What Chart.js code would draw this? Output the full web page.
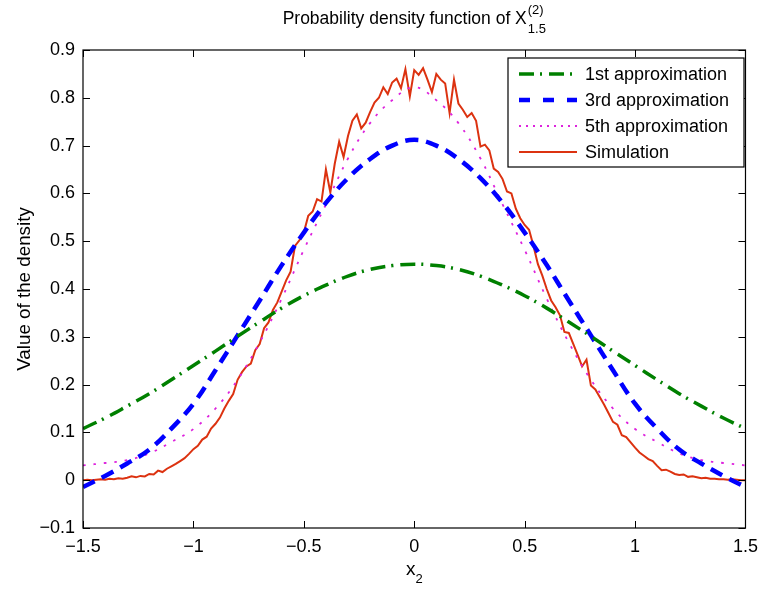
<!DOCTYPE html>
<html>
<head>
<meta charset="utf-8">
<script src="https://cdn.jsdelivr.net/npm/chart.js@4.4.1/dist/chart.umd.min.js"></script>
<style>
html,body{margin:0;padding:0;background:#fff;}
#wrap{width:766px;height:590px;position:relative;}
</style>
</head>
<body>
<div id="wrap"><canvas id="c" width="766" height="590"></canvas></div>
<script>
// ---- data ----
const approxX = [-1.5,-1.4,-1.3,-1.2,-1.1,-1.0,-0.9,-0.8,-0.7,-0.6,-0.5,-0.4,-0.3,-0.2,-0.1,0,0.1,0.2,0.3,0.4,0.5,0.6,0.7,0.8,0.9,1.0,1.1,1.2,1.3,1.4,1.5];
const firstApprox = [0.108,0.130,0.155,0.181,0.210,0.240,0.270,0.301,0.331,0.360,0.386,0.408,0.427,0.441,0.449,0.452,0.449,0.441,0.427,0.408,0.386,0.360,0.331,0.301,0.270,0.240,0.210,0.181,0.155,0.130,0.108];
const thirdApprox = [-0.014,0.009,0.035,0.064,0.108,0.160,0.230,0.303,0.376,0.450,0.518,0.580,0.632,0.672,0.700,0.712,0.700,0.672,0.632,0.580,0.518,0.450,0.376,0.303,0.230,0.160,0.108,0.064,0.035,0.009,-0.014];
const fifthApprox = [0.031,0.036,0.042,0.056,0.080,0.107,0.150,0.210,0.288,0.380,0.482,0.577,0.673,0.747,0.795,0.822,0.795,0.747,0.673,0.577,0.482,0.380,0.288,0.210,0.150,0.107,0.080,0.056,0.042,0.036,0.031];
const simX = [-1.50,-1.48,-1.46,-1.44,-1.42,-1.40,-1.38,-1.36,-1.34,-1.32,
-1.30,-1.28,-1.26,-1.24,-1.22,-1.20,-1.18,-1.16,-1.14,-1.12,
-1.10,-1.08,-1.06,-1.04,-1.02,-1.00,-0.98,-0.96,-0.94,-0.92,
-0.90,-0.88,-0.86,-0.84,-0.82,-0.80,-0.78,-0.76,-0.74,-0.72,
-0.70,-0.68,-0.66,-0.64,-0.62,-0.60,-0.58,-0.56,-0.54,-0.52,
-0.50,-0.48,-0.46,-0.44,-0.42,-0.40,-0.38,-0.36,-0.34,-0.32,
-0.30,-0.28,-0.26,-0.24,-0.22,-0.20,-0.18,-0.16,-0.14,-0.12,
-0.10,-0.08,-0.06,-0.04,-0.02,0.00,
0.02,0.04,0.06,0.08,0.10,0.12,0.14,0.16,0.18,0.20,
0.22,0.24,0.26,0.28,0.30,0.32,0.34,0.36,0.38,0.40,
0.42,0.44,0.46,0.48,0.50,0.52,0.54,0.56,0.58,0.60,
0.62,0.64,0.66,0.68,0.70,0.72,0.74,0.76,0.78,0.80,
0.82,0.84,0.86,0.88,0.90,0.92,0.94,0.96,0.98,1.00,
1.02,1.04,1.06,1.08,1.10,1.12,1.14,1.16,1.18,1.20,
1.22,1.24,1.26,1.28,1.30,1.32,1.34,1.36,1.38,1.40,
1.42,1.44,1.46,1.48,1.50];
const simY = [0.000,0.001,0.000,0.001,0.002,0.001,0.003,0.002,0.004,0.003,
0.005,0.008,0.006,0.009,0.008,0.013,0.012,0.020,0.017,0.024,
0.029,0.034,0.040,0.046,0.055,0.065,0.072,0.085,0.091,0.108,
0.118,0.131,0.150,0.166,0.180,0.210,0.226,0.238,0.244,0.272,
0.285,0.318,0.330,0.356,0.372,0.395,0.418,0.436,0.490,0.502,
0.518,0.553,0.562,0.588,0.583,0.650,0.602,0.662,0.708,0.676,
0.720,0.752,0.765,0.736,0.748,0.770,0.790,0.800,0.822,0.808,
0.832,0.840,0.820,0.860,0.803,0.858,
0.848,0.862,0.838,0.812,0.850,0.838,0.830,0.768,0.838,0.788,
0.775,0.760,0.768,0.752,0.698,0.702,0.690,0.652,0.645,0.630,
0.604,0.600,0.568,0.548,0.534,0.524,0.490,0.452,0.428,0.400,
0.376,0.362,0.345,0.310,0.308,0.285,0.262,0.238,0.252,0.198,
0.190,0.174,0.158,0.140,0.122,0.116,0.094,0.090,0.079,0.068,
0.058,0.051,0.044,0.040,0.030,0.021,0.022,0.018,0.013,0.011,
0.012,0.007,0.008,0.006,0.004,0.005,0.003,0.003,0.002,0.002,
0.001,0.002,0.001,0.000,0.000];
const xTickValues = [-1.5,-1,-0.5,0,0.5,1,1.5];
const yTickValues = [-0.1,0,0.1,0.2,0.3,0.4,0.5,0.6,0.7,0.8,0.9];
const seriesNames = ['1st approximation','3rd approximation','5th approximation','Simulation'];
const titleMain = 'Probability density function of X';
const titleSup = '(2)';
const titleSub = '1.5';
const xLabel = 'x';
const xLabelSub = '2';
const yLabel = 'Value of the density';

// ---- styles ----
const FONT = '"Liberation Sans", Arial, Helvetica, sans-serif';
const styles = [
  {color:'#008000', width:3.5, dash:[15,6,2,7]},
  {color:'#0000ff', width:4.5, dash:[13,8]},
  {color:'#dd22dd', width:1.8, dash:[2.5,8]},
  {color:'#dc3210', width:2, dash:[]}
];
const legendDash = [[15,6,2,7],[11,13],[2,5],[]];

function pts(xs, ys){ return xs.map((x,i)=>({x:x, y:ys[i]})); }
function fmt(v){
  const r = Math.round(v*10)/10;
  const s = String(Math.abs(r));
  return (r < 0 ? '\u2212' : '') + s;
}

const decorPlugin = {
  id:'decor',
  afterDraw(chart){
    const ctx = chart.ctx;
    const a = chart.chartArea;
    const xs = chart.scales.x, ys = chart.scales.y;
    ctx.save();
    // box
    ctx.strokeStyle = '#000'; ctx.lineWidth = 1.2; ctx.setLineDash([]);
    ctx.strokeRect(a.left, a.top, a.right-a.left, a.bottom-a.top);
    // inward ticks on all sides
    const tl = 7;
    ctx.beginPath();
    xTickValues.forEach(v=>{
      const px = Math.round(xs.getPixelForValue(v))+0.5;
      ctx.moveTo(px, a.bottom); ctx.lineTo(px, a.bottom-tl);
      ctx.moveTo(px, a.top); ctx.lineTo(px, a.top+tl);
    });
    yTickValues.forEach(v=>{
      const py = Math.round(ys.getPixelForValue(v))+0.5;
      ctx.moveTo(a.left, py); ctx.lineTo(a.left+tl, py);
      ctx.moveTo(a.right, py); ctx.lineTo(a.right-tl, py);
    });
    ctx.lineWidth = 1; ctx.stroke();

    // title
    const cx = (a.left + a.right)/2;
    ctx.fillStyle = '#000';
    ctx.textBaseline = 'alphabetic';
    ctx.font = '17.5px ' + FONT;
    const wMain = ctx.measureText(titleMain).width;
    ctx.font = '13px ' + FONT;
    const wScript = Math.max(ctx.measureText(titleSup).width, ctx.measureText(titleSub).width);
    const startX = cx - (wMain + 1 + wScript)/2;
    ctx.font = '17.5px ' + FONT;
    ctx.textAlign = 'left';
    ctx.fillText(titleMain, startX, 24);
    ctx.font = '13px ' + FONT;
    ctx.fillText(titleSup, startX + wMain + 1, 14);
    ctx.fillText(titleSub, startX + wMain + 1, 33);

    // x label
    ctx.font = '19px ' + FONT;
    const wx = ctx.measureText(xLabel).width;
    ctx.font = '13px ' + FONT;
    const wx2 = ctx.measureText(xLabelSub).width;
    const xl = cx - (wx + wx2)/2;
    ctx.font = '19px ' + FONT;
    ctx.fillText(xLabel, xl, 575);
    ctx.font = '13px ' + FONT;
    ctx.fillText(xLabelSub, xl + wx, 583);

    // y label
    ctx.save();
    ctx.translate(30, (a.top + a.bottom)/2);
    ctx.rotate(-Math.PI/2);
    ctx.font = '18.8px ' + FONT;
    ctx.textAlign = 'center';
    ctx.fillText(yLabel, 0, 0);
    ctx.restore();

    // legend
    const lx = 508, ly = 58, lw = 236, lh = 109;
    ctx.fillStyle = '#fff';
    ctx.fillRect(lx, ly, lw, lh);
    ctx.strokeStyle = '#000'; ctx.lineWidth = 1.2;
    ctx.strokeRect(lx, ly, lw, lh);
    ctx.font = '18px ' + FONT;
    ctx.textAlign = 'left';
    ctx.textBaseline = 'middle';
    seriesNames.forEach((name, i)=>{
      const y = ly + 16 + i*26;
      const st = styles[i];
      ctx.beginPath();
      ctx.strokeStyle = st.color;
      ctx.lineWidth = st.width;
      ctx.setLineDash(legendDash[i]);
      ctx.moveTo(lx + 11, y); ctx.lineTo(lx + 69, y);
      ctx.stroke();
      ctx.setLineDash([]);
      ctx.fillStyle = '#000';
      ctx.fillText(name, lx + 77, y + 1);
    });
    ctx.restore();
  }
};

const datasets = [
  {label:seriesNames[0], data:pts(approxX, firstApprox), tension:0.4},
  {label:seriesNames[1], data:pts(approxX, thirdApprox), tension:0.4},
  {label:seriesNames[2], data:pts(approxX, fifthApprox), tension:0.4},
  {label:seriesNames[3], data:pts(simX, simY), tension:0}
].map((d,i)=>Object.assign(d, {
  borderColor: styles[i].color,
  borderWidth: styles[i].width,
  borderDash: styles[i].dash,
  borderCapStyle:'butt',
  pointRadius:0,
  fill:false
}));

new Chart(document.getElementById('c'), {
  type:'line',
  data:{datasets:datasets},
  options:{
    responsive:false,
    animation:false,
    events:[],
    layout:{padding:{top:50, right:20, left:0, bottom:0}},
    plugins:{legend:{display:false}, title:{display:false}, tooltip:{enabled:false}},
    scales:{
      x:{
        type:'linear', min:-1.5, max:1.5,
        afterBuildTicks:s=>{ s.ticks = xTickValues.map(v=>({value:v})); },
        afterFit:s=>{ s.height = 62; },
        grid:{display:false, drawTicks:false},
        border:{display:false},
        ticks:{font:{size:18, family:FONT}, color:'#000', padding:8, maxRotation:0, autoSkip:false, callback:v=>fmt(v)}
      },
      y:{
        type:'linear', min:-0.1, max:0.9,
        afterBuildTicks:s=>{ s.ticks = yTickValues.map(v=>({value:v})); },
        afterFit:s=>{ s.width = 83; },
        grid:{display:false, drawTicks:false},
        border:{display:false},
        ticks:{font:{size:18, family:FONT}, color:'#000', padding:8, autoSkip:false, callback:v=>fmt(v)}
      }
    }
  },
  plugins:[decorPlugin]
});
</script>
</body>
</html>
